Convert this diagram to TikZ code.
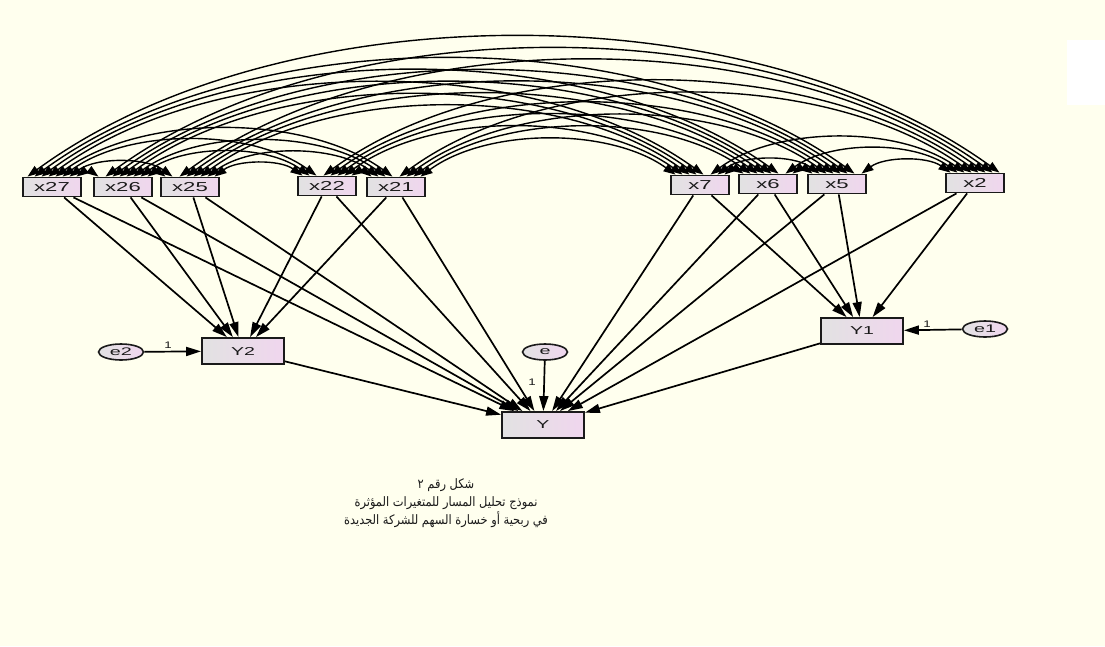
\documentclass[tikz,border=0pt]{standalone}
\usepackage{graphicx}
\usepackage{fontspec}
\setmainfont{Liberation Sans}
\newfontfamily\arabicfont[Script=Arabic]{DejaVu Sans}
\TeXXeTstate=1
\usetikzlibrary{arrows.meta,shapes.geometric}
\definecolor{bg}{HTML}{FFFFEE}
\definecolor{boxl}{HTML}{E2E2E2}
\definecolor{boxr}{HTML}{F0D6EE}
\definecolor{ink}{HTML}{1A1A1A}
\newcommand{\widetxt}[2][1.7]{\scalebox{#1}[1]{#2}}
\begin{document}
\begin{tikzpicture}[x=1pt,y=1pt,
  obs/.style={draw=ink, line width=1.8pt, rectangle, minimum width=58pt, minimum height=19pt, inner sep=0pt,
    left color=boxl, right color=boxr, text=ink, font=\fontsize{13}{13}\selectfont},
  endo/.style={obs, minimum width=82pt, minimum height=26pt, font=\fontsize{11.5}{12}\selectfont},
  err/.style={draw=ink, line width=1.6pt, ellipse, minimum width=45pt, minimum height=16pt, inner sep=0pt,
    left color=boxl, right color=boxr, text=ink, font=\fontsize{11}{11}\selectfont},
  path/.style={draw=black, line width=1.7pt, -{Triangle[length=15pt,width=9pt]}},
  cov/.style={draw=black, line width=1.4pt, {Triangle[length=12pt,width=8.5pt]}-{Triangle[length=12pt,width=8.5pt]}},
  one/.style={font=\fontsize{9.5}{9.5}\selectfont, text=ink, inner sep=1pt}
]
\useasboundingbox (0,0) rectangle (1105,-646);
\fill[bg] (0,0) rectangle (1105,-646);
\fill[white] (1067,-40) rectangle (1105,-105);

% exogenous variables
\node[obs] (n1) at (52,-187) {\widetxt{x27}};
\node[obs] (n2) at (123,-187) {\widetxt{x26}};
\node[obs] (n3) at (190,-187) {\widetxt{x25}};
\node[obs] (n4) at (327,-186) {\widetxt{x22}};
\node[obs] (n5) at (396,-187) {\widetxt{x21}};
\node[obs] (n6) at (700,-185) {\widetxt{x7}};
\node[obs] (n7) at (768,-184) {\widetxt{x6}};
\node[obs] (n8) at (837,-184) {\widetxt{x5}};
\node[obs] (n9) at (975,-183) {\widetxt{x2}};

% endogenous and errors
\node[endo] (Y2) at (243,-351) {\widetxt{Y2}};
\node[endo] (Y) at (543,-425) {\widetxt{Y}};
\node[endo] (Y1) at (862,-331) {\widetxt{Y1}};
\node[err] (e2) at (121,-352) {\widetxt[1.8]{e2}};
\node[err] (e) at (545,-352) {\widetxt[1.8]{e}};
\node[err] (e1) at (985,-329) {\widetxt[1.8]{e1}};

% covariances
\foreach \i in {1,...,8}{
  \pgfmathtruncatemacro{\nxt}{\i+1}
  \foreach \j in {\nxt,...,9}{
    \pgfmathsetmacro{\oi}{-24.5+7*(\i+8-\j)}
    \pgfmathsetmacro{\oj}{-24.5+7*(\j-1-\i)}
    \draw[cov] ([xshift=\oi pt]n\i.north) to[bend left=36, looseness=0.82] ([xshift=\oj pt]n\j.north);
  }
}

% paths
\foreach \s in {1,...,5} \draw[path] (n\s) -- (Y2);
\foreach \s in {6,...,9} \draw[path] (n\s) -- (Y1);
\foreach \s in {1,...,9} \draw[path] (n\s) -- (Y);
\draw[path] (Y2) -- (Y);
\draw[path] (Y1) -- (Y);
\draw[path] (e) -- (Y);
\draw[path] (e2) -- (Y2);
\draw[path] (e1) -- (Y1);

\node[one] (l2) at (168,-345) {\widetxt[1.4]{1}};
\node[one] (l0) at (532,-382) {\widetxt[1.4]{1}};
\node[one] (l1) at (927,-324) {\widetxt[1.4]{1}};

\node[align=center, text=ink, font=\arabicfont\fontsize{13}{18}\selectfont] (cap) at (446,-503)
  {\scalebox{0.88}[1]{\beginR شكل رقم ٢\endR}\\
   \scalebox{0.88}[1]{\beginR نموذج تحليل المسار للمتغيرات المؤثرة\endR}\\
   \scalebox{0.88}[1]{\beginR في ربحية أو خسارة السهم للشركة الجديدة\endR}};
\end{tikzpicture}
\end{document}
